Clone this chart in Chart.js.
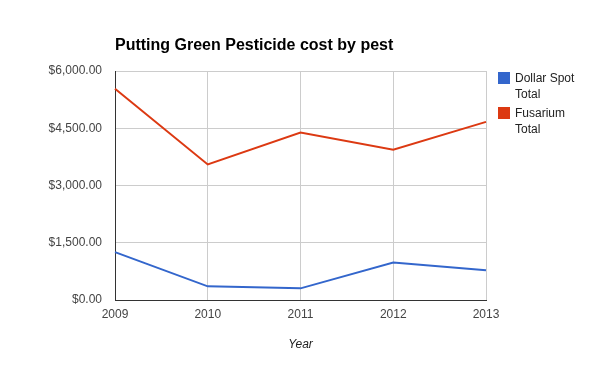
<!DOCTYPE html>
<html><head><meta charset="utf-8">
<script src="https://cdn.jsdelivr.net/npm/chart.js@4"></script>
<style>
html,body{margin:0;padding:0;background:#fff;}
#wrap{position:relative;width:600px;height:371px;font-family:Arial,"Liberation Sans",sans-serif;}
#title{position:absolute;left:115px;top:35px;font-size:16px;font-weight:bold;color:#000;white-space:nowrap;line-height:20px;}
.leg{position:absolute;left:498px;font-size:12px;color:#222;line-height:16px;}
.leg .sw{position:absolute;left:0;top:1px;width:12px;height:12px;}
.leg .tx{position:absolute;left:17px;top:-1px;white-space:nowrap;}
canvas{position:absolute;left:0;top:0;}
</style></head>
<body><div id="wrap">
<canvas id="c" width="600" height="371"></canvas>
<div id="title">Putting Green Pesticide cost by pest</div>
<div id="legend"></div>
</div>
<script>
const categories = ["2009","2010","2011","2012","2013"];
const seriesNames = [["Dollar Spot","Total"],["Fusarium","Total"]];
const dollarSpot = [1253, 358, 305, 982, 779];
const fusarium = [5537, 3551, 4386, 3938, 4668];
const colors = ["#3366cc","#dc3912"];
const yTicks = [0,1500,3000,4500,6000];
const xTitle = "Year";

const legend = document.getElementById('legend');
seriesNames.forEach((lines,i)=>{
  const d=document.createElement('div');
  d.className='leg';
  d.style.top=(71+i*35)+'px';
  d.innerHTML='<div class="sw" style="background:'+colors[i]+'"></div><div class="tx">'+lines.join('<br>')+'</div>';
  legend.appendChild(d);
});

const FONT = "Arial, 'Liberation Sans', sans-serif";
new Chart(document.getElementById('c'),{
  type:'line',
  data:{labels:categories,datasets:[
    {label:seriesNames[0].join(' '),data:dollarSpot,borderColor:colors[0],backgroundColor:colors[0],borderWidth:2,pointRadius:0,tension:0},
    {label:seriesNames[1].join(' '),data:fusarium,borderColor:colors[1],backgroundColor:colors[1],borderWidth:2,pointRadius:0,tension:0}
  ]},
  options:{
    responsive:false,animation:false,
    layout:{padding:{left:0,right:114,top:71,bottom:0}},
    plugins:{legend:{display:false},title:{display:false},tooltip:{enabled:false}},
    scales:{
      x:{
        grid:{color:'#cccccc',drawTicks:false},
        border:{color:'#333333',width:1},
        ticks:{color:'#444444',font:{family:FONT,size:12},padding:7,maxRotation:0},
        title:{display:true,text:xTitle,color:'#222222',font:{family:FONT,size:12,style:'italic'},padding:{top:0,bottom:19}},
        afterFit:(s)=>{s.height=71;}
      },
      y:{
        min:0,max:6000,
        afterBuildTicks:(s)=>{s.ticks=yTicks.map(v=>({value:v}));},
        grid:{color:'#cccccc',drawTicks:false},
        border:{color:'#333333',width:1},
        ticks:{color:'#444444',font:{family:FONT,size:12},padding:13,
          callback:(v)=>'$'+Number(v).toLocaleString('en-US',{minimumFractionDigits:2,maximumFractionDigits:2})},
        afterFit:(s)=>{s.width=115;}
      }
    }
  }
});
</script>
</body></html>
